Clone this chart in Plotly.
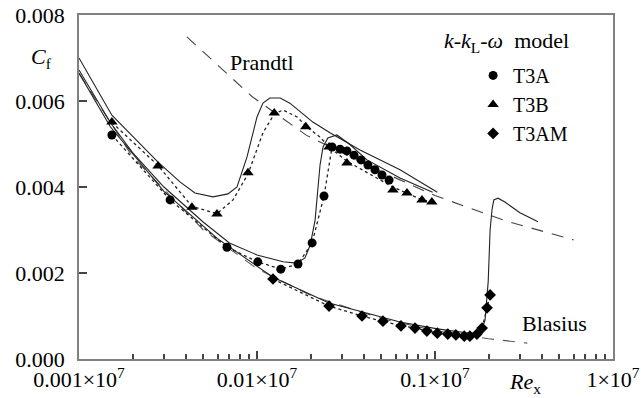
import plotly.graph_objects as go

# ---------------- data ----------------
# experimental points
t3a_re = [1.53e4, 3.25e4, 6.78e4, 1.01e5, 1.36e5, 1.70e5, 2.04e5, 2.38e5,
          2.64e5, 2.93e5, 3.20e5, 3.51e5, 3.84e5, 4.20e5, 4.60e5, 5.04e5, 5.52e5]
t3a_cf = [0.00521, 0.00370, 0.00260, 0.00226, 0.00209, 0.00221, 0.00270, 0.00379,
          0.00493, 0.00488, 0.00484, 0.00474, 0.00463, 0.00451, 0.00440, 0.00428, 0.00416]

t3b_re = [1.53e4, 2.78e4, 4.31e4, 5.96e4, 8.9e4, 1.25e5, 1.88e5, 2.54e5,
          3.2e5, 5.8e5, 6.96e5, 8.45e5, 9.6e5]
t3b_cf = [0.00551, 0.00449, 0.00353, 0.00337, 0.00433, 0.00572, 0.00540, 0.00493,
          0.00456, 0.00393, 0.00386, 0.00370, 0.00365]

t3am_re = [1.23e5, 2.54e5, 3.89e5, 5.1e5, 6.44e5, 7.72e5, 9.0e5, 1.03e6, 1.18e6,
           1.31e6, 1.46e6, 1.57e6, 1.72e6, 1.84e6, 1.96e6, 2.04e6]
t3am_cf = [0.00186, 0.00123, 0.00100, 0.00088, 0.00077, 0.00072, 0.00065, 0.00060, 0.00058,
           0.00056, 0.00053, 0.00053, 0.00058, 0.00072, 0.00119, 0.00149]

# k-kL-omega model (solid lines)
t3a_model_re = [1.0e4, 1.5e4, 2.0e4, 3.0e4, 5.0e4, 7.0e4, 1.0e5, 1.4e5, 1.67e5, 1.86e5,
                1.99e5, 2.12e5, 2.26e5, 2.35e5, 2.5e5, 2.81e5, 3.3e5, 4.15e5, 6.36e5, 9.7e5]
t3a_model_cf = [0.00672, 0.0055, 0.0048, 0.0040, 0.00318, 0.0027, 0.00242, 0.00226, 0.00223, 0.00235,
                0.00265, 0.00323, 0.00451, 0.00493, 0.00514, 0.00521, 0.0050, 0.00463, 0.00421, 0.00388]

t3b_model_re = [1.0e4, 1.53e4, 2.78e4, 3.69e4, 4.48e4, 5.66e4, 6.87e4, 7.72e4, 8.79e4, 1.0e5,
                1.08e5, 1.18e5, 1.35e5, 1.53e5, 2.06e5, 2.57e5, 3.79e5, 6.36e5, 1.03e6]
t3b_model_cf = [0.0070, 0.00567, 0.00458, 0.00412, 0.00386, 0.00377, 0.00384, 0.0040, 0.0047, 0.00563,
                0.00595, 0.00607, 0.00607, 0.00595, 0.00551, 0.00526, 0.00486, 0.0044, 0.00388]

t3am_model_re = [1.0e4, 1.5e4, 3.0e4, 6.0e4, 1.23e5, 2.54e5, 6.36e5, 1.03e6, 1.57e6, 1.79e6,
                 1.91e6, 1.99e6, 2.04e6, 2.09e6, 2.14e6, 2.26e6, 2.47e6, 3.0e6, 3.79e6]
t3am_model_cf = [0.00665, 0.0054, 0.0039, 0.0028, 0.0019, 0.0013, 0.00086, 0.0007, 0.0006, 0.0006,
                 0.0009, 0.0018, 0.0030, 0.00347, 0.0037, 0.00374, 0.00365, 0.0034, 0.00319]

# dotted lines through the experiments
t3b_dot_re = [1.53e4, 2.78e4, 4.31e4, 5.96e4, 7.33e4, 8.9e4, 1.08e5, 1.25e5, 1.40e5, 1.68e5,
              1.9e5, 2.26e5, 2.54e5, 3.2e5, 4.3e5, 5.8e5, 7.0e5, 8.5e5, 9.6e5]
t3b_dot_cf = [0.0055, 0.0045, 0.00355, 0.00338, 0.0037, 0.0043, 0.00526, 0.0057, 0.00579, 0.00563,
              0.0054, 0.00516, 0.00493, 0.0046, 0.0043, 0.0040, 0.00385, 0.0037, 0.00365]

# reference correlations (dashed)
prandtl_re = [4.04e4, 6.0e4, 9.4e4, 1.9e5, 4.0e5, 1.0e6, 2.5e6, 6.0e6]
prandtl_cf = [0.00749, 0.00684, 0.0061, 0.0052, 0.00454, 0.0038, 0.00321, 0.00277]

blasius_re = [1e4, 2e4, 5e4, 1e5, 2e5, 5e5, 1e6, 2e6, 3.3e6]
blasius_cf = [0.00664, 0.0047, 0.0030, 0.0021, 0.00148, 0.00094, 0.00066, 0.00047, 0.00037]

y_tick_vals = [0.0, 0.002, 0.004, 0.006, 0.008]
x_decades = [1e4, 1e5, 1e6]
x_minor_mantissas = [2, 3, 4, 5, 6, 7, 8, 9]
x_minor_vals = [m * d for d in x_decades for m in x_minor_mantissas]

# ---------------- figure ----------------
FONT = "'Liberation Serif', Tinos, 'Times New Roman', serif"
AX = "#444444"
fig = go.Figure()

def line(x, y, dash="solid", color="#222", width=1.1):
    fig.add_trace(go.Scatter(x=x, y=y, mode="lines", showlegend=False, hoverinfo="skip",
                             line=dict(color=color, width=width, dash=dash)))

line(prandtl_re, prandtl_cf, dash="12px,9px", color="#444", width=1.1)
line(blasius_re, blasius_cf, dash="12px,9px", color="#555", width=1.1)
line(t3b_model_re, t3b_model_cf)
line(t3a_model_re, t3a_model_cf)
line(t3am_model_re, t3am_model_cf)
line(t3b_dot_re, t3b_dot_cf, dash="dot", color="#222", width=1.3)
line(t3a_re, t3a_cf, dash="dot", color="#222", width=1.3)
line(t3am_re, t3am_cf, dash="dot", color="#222", width=1.3)

fig.add_trace(go.Scatter(x=t3a_re, y=t3a_cf, mode="markers", name="T3A",
                         marker=dict(symbol="circle", size=9, color="black")))
fig.add_trace(go.Scatter(x=t3b_re, y=t3b_cf, mode="markers", name="T3B",
                         marker=dict(symbol="triangle-up", size=10, color="black")))
fig.add_trace(go.Scatter(x=t3am_re, y=t3am_cf, mode="markers", name="T3AM",
                         marker=dict(symbol="diamond", size=9, color="black")))

fig.update_layout(
    width=641, height=398,
    margin=dict(l=79, r=28, t=15, b=39, autoexpand=False),
    plot_bgcolor="white", paper_bgcolor="white",
    font=dict(family=FONT, size=22, color="black"),
    legend=dict(x=0.738, y=0.881, xanchor="left", yanchor="top",
                bgcolor="rgba(0,0,0,0)", font=dict(family=FONT, size=20),
                itemwidth=30, tracegroupgap=0),
    xaxis=dict(type="log", range=[4, 7], showgrid=False, zeroline=False, automargin=False,
               tick0=0, dtick=1, exponentformat="power", showexponent="all",
               ticks="inside", ticklen=8, tickcolor=AX, tickwidth=2,
               linecolor="#808080", linewidth=1.5, mirror=True,
               ticklabelstandoff=0, layer="above traces",
               minor=dict(tickmode="array", tickvals=x_minor_vals, ticks="inside",
                          ticklen=5, tickcolor=AX, tickwidth=1.5, showgrid=False),
               tickfont=dict(family=FONT, size=22)),
    yaxis=dict(range=[0, 0.008], showgrid=False, zeroline=False, automargin=False,
               tickvals=y_tick_vals, tickformat=".3f",
               ticks="inside", ticklen=8, tickcolor=AX, tickwidth=2,
               linecolor="#808080", linewidth=1.5, mirror=True,
               ticklabelstandoff=8, layer="above traces",
               tickfont=dict(family=FONT, size=22)),
)

ann = [
    dict(text="Prandtl", x=0.343, y=0.863),
    dict(text="Blasius", x=0.891, y=0.102),
    dict(text="<i>k</i>-<i>k</i><sub>L</sub>-<i>ω</i>  model", x=0.80, y=0.922),
    dict(text="<i>C</i><sub>f</sub>", x=-0.07, y=0.875),
    dict(text="<i>Re</i><sub>x</sub>", x=0.835, y=-0.07),
]
for a in ann:
    fig.add_annotation(xref="paper", yref="paper", showarrow=False,
                       xanchor="center", yanchor="middle",
                       font=dict(family=FONT, size=22, color="black"), **a)

fig.write_html("out.html")
